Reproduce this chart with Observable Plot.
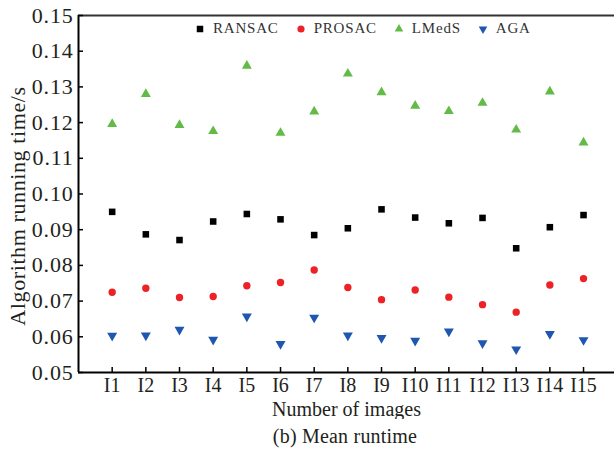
<!DOCTYPE html>
<html><head><meta charset="utf-8">
<script src="https://cdn.jsdelivr.net/npm/d3@7"></script>
<script src="https://cdn.jsdelivr.net/npm/@observablehq/plot@0.6"></script>
<style>
body{margin:0;background:#fff;font-family:"Liberation Serif","Times New Roman",serif;color:#231f20;}
#wrap{position:relative;width:614px;}
#legend{position:absolute;top:20px;left:196px;display:flex;align-items:center;font-size:15px;letter-spacing:0.8px;color:#333;}
#legend .item{display:flex;align-items:center;margin-right:18px;}
#legend svg{margin-right:9px;overflow:visible;}
#caption{width:614px;text-align:center;font-size:20px;line-height:28px;padding-left:76px;box-sizing:border-box;margin-top:3px;letter-spacing:0.2px;}
</style></head>
<body><div id="wrap"></div>
<script>
const images = ["I1","I2","I3","I4","I5","I6","I7","I8","I9","I10","I11","I12","I13","I14","I15"];
const seriesNames = ["RANSAC","PROSAC","LMedS","AGA"];
const ransac = [0.0950,0.0887,0.0871,0.0923,0.0944,0.0929,0.0885,0.0904,0.0957,0.0934,0.0918,0.0933,0.0848,0.0907,0.0941];
const prosac = [0.0725,0.0736,0.0710,0.0713,0.0743,0.0752,0.0787,0.0738,0.0704,0.0731,0.0711,0.0690,0.0669,0.0745,0.0763];
const lmeds  = [0.1196,0.1280,0.1193,0.1176,0.1359,0.1171,0.1231,0.1337,0.1285,0.1247,0.1232,0.1255,0.1180,0.1287,0.1144];
const aga    = [0.0603,0.0604,0.0620,0.0592,0.0657,0.0580,0.0654,0.0604,0.0597,0.0589,0.0615,0.0582,0.0565,0.0608,0.0591];
const yTicks = [0.05,0.06,0.07,0.08,0.09,0.10,0.11,0.12,0.13,0.14,0.15];
const colors = ["#000000","#ec2227","#62bb46","#1f56b0"];

const sqrt3 = Math.sqrt(3);
const triangleDown = {
  draw(context, size) {
    const y = -Math.sqrt(size / (sqrt3 * 3));
    context.moveTo(0, -y * 2);
    context.lineTo(-sqrt3 * y, y);
    context.lineTo(sqrt3 * y, y);
    context.closePath();
  }
};
const symbols = ["square","circle","triangle",triangleDown];
const values = [ransac, prosac, lmeds, aga];

const rows = [];
seriesNames.forEach((s, si) => values[si].forEach((v, i) => rows.push({series: s, idx: i + 1, image: images[i], value: v})));

const plot = Plot.plot({
  width: 614,
  height: 419,
  marginTop: 15,
  marginLeft: 78,
  marginRight: 0,
  marginBottom: 47,
  style: {fontFamily: '"Liberation Serif","Times New Roman",serif', fontSize: "20px", color: "#231f20", background: "#fff"},
  x: {domain: [0, 15.92]},
  y: {domain: [yTicks[0], yTicks[yTicks.length - 1]]},
  marks: [
    Plot.ruleY([yTicks[yTicks.length - 1]], {stroke: "#333", strokeWidth: 2.2}),
    Plot.axisY({ticks: yTicks, tickFormat: d3.format(".2f"), tickSize: -5, tickPadding: 10, strokeWidth: 1.5, stroke: "#000",
      label: "Algorithm running time/s", labelAnchor: "center", labelArrow: "none", labelOffset: 69, fontSize: 22}),
    Plot.axisX({ticks: d3.range(1, images.length + 1), tickFormat: d => images[d - 1], tickSize: -5, tickPadding: 10, strokeWidth: 1.5, stroke: "#000",
      label: "Number of images", labelAnchor: "center", labelArrow: "none", labelOffset: 43, fontSize: 20}),
    Plot.ruleX([0], {stroke: "#000", strokeWidth: 2}),
    Plot.ruleY([yTicks[0]], {stroke: "#000", strokeWidth: 2}),
    Plot.dot(rows, {x: "idx", y: "value",
      symbol: d => symbols[seriesNames.indexOf(d.series)],
      fill: d => colors[seriesNames.indexOf(d.series)],
      r: 3.7, stroke: "none"})
  ]
});
plot.style.display = "block";
d3.select(plot).selectAll('[aria-label="y-axis tick label"] text').style("letter-spacing", "0.8px");
d3.select(plot).selectAll('[aria-label="y-axis label"] text').style("letter-spacing", "0.6px").attr("dx", -12);
const wrap = document.getElementById("wrap");
wrap.appendChild(plot);

// legend
const legend = document.createElement("div");
legend.id = "legend";
seriesNames.forEach((s, si) => {
  const item = document.createElement("div");
  item.className = "item";
  const svg = d3.create("svg").attr("width", 8).attr("height", 10).attr("viewBox", "-4 -5 8 10");
  const symType = typeof symbols[si] === "string" ? {square: d3.symbolSquare, circle: d3.symbolCircle, triangle: d3.symbolTriangle}[symbols[si]] : symbols[si];
  svg.append("path").attr("d", d3.symbol(symType, si === 0 ? 42 : si === 1 ? 40 : 32)()).attr("fill", colors[si]);
  item.appendChild(svg.node());
  const t = document.createElement("span");
  t.textContent = s;
  item.appendChild(t);
  legend.appendChild(item);
});
wrap.appendChild(legend);

const cap = document.createElement("div");
cap.id = "caption";
cap.textContent = "(b) Mean runtime";
document.body.appendChild(cap);
</script>
</body></html>
